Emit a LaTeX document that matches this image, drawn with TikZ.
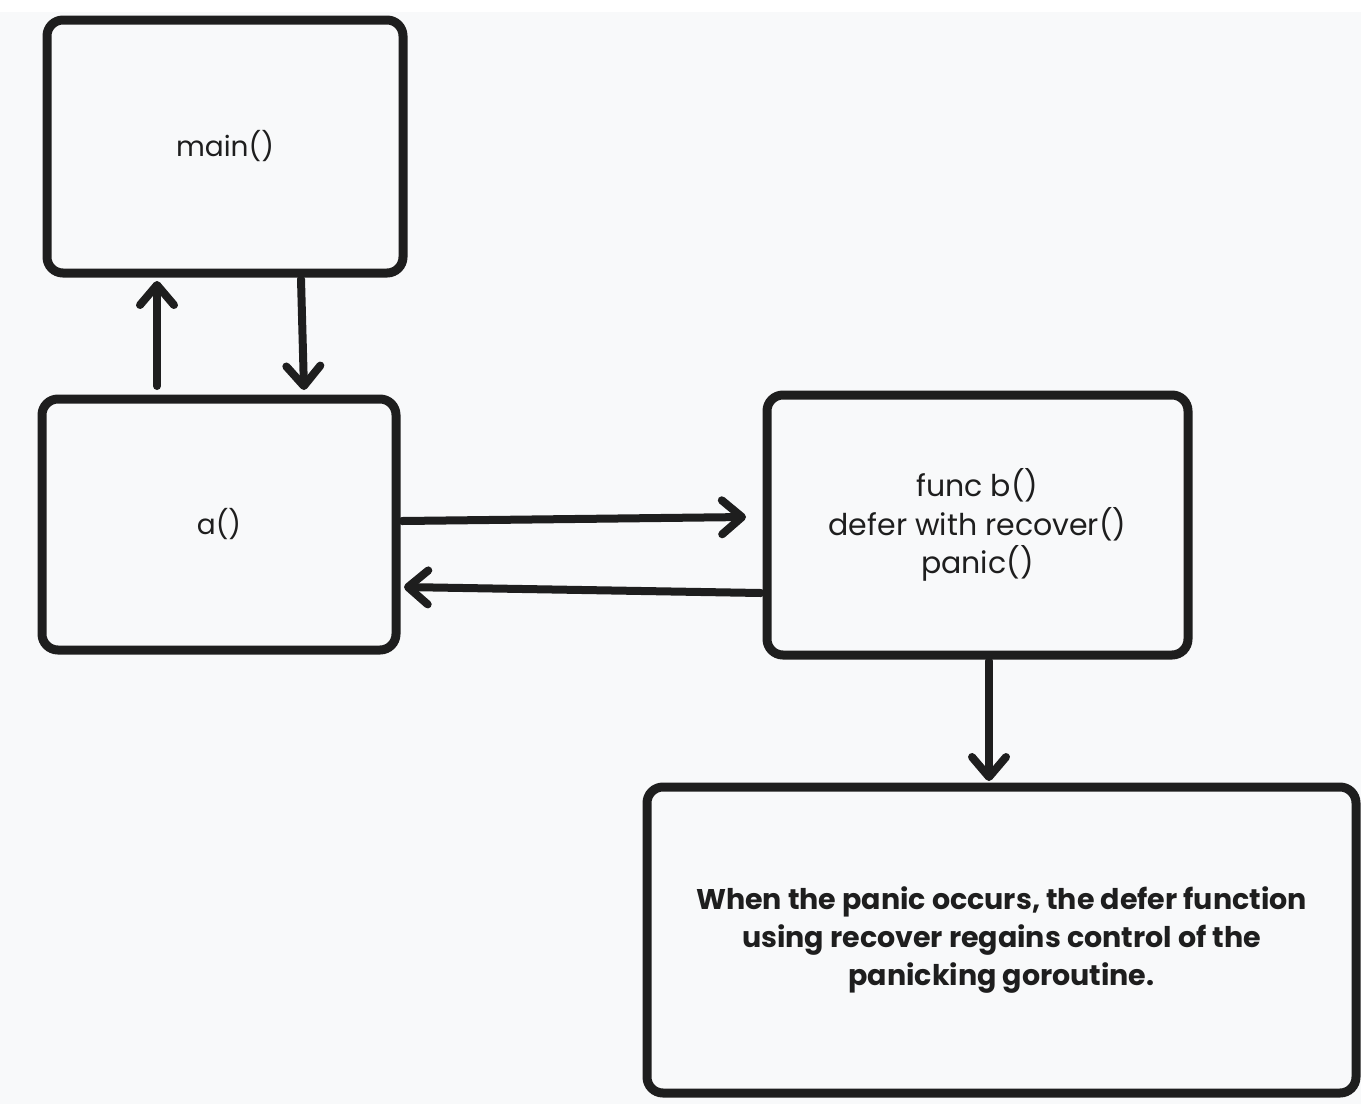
\documentclass[tikz,border=0pt]{standalone}
\usepackage{fontspec}
\setmainfont{Poppins}
\usetikzlibrary{arrows.meta}
\definecolor{bg}{HTML}{F8F9FA}
\definecolor{ink}{HTML}{1E1E1E}
\tikzset{
  box/.style={draw=ink, line width=9pt, rounded corners=16pt, fill=bg, align=center, inner sep=0pt, text=ink},
  conn/.style={draw=ink, line width=8pt, line cap=round, -{Straight Barb[length=20pt, width=34pt, round]}},
}
\begin{document}
\begin{tikzpicture}[x=1pt, y=-1pt, font=\fontsize{28}{38.5}\selectfont]
\useasboundingbox (0,0) rectangle (1368,1104);
\fill[white] (0,0) rectangle (1368,1104);
\fill[bg] (0,12) rectangle (1361,1104);
\node[box, minimum width=356pt, minimum height=253pt] (main) at (225,146.5) {main()};
\node[box, minimum width=354pt, minimum height=251pt] (a) at (219,524.5) {a()};
\node[box, minimum width=421pt, minimum height=260pt, font=\fontsize{30}{38.5}\selectfont] (b) at (977.5,525) {func b()\\defer with recover()\\panic()};
\node[box, minimum width=709pt, minimum height=306pt, font=\fontsize{28.5}{38}\selectfont\bfseries] (note) at (1001.5,940) {When the panic occurs, the defer function\\using recover regains control of the\\panicking goroutine.};
\coordinate (u1) at (157,386);
\draw[conn] (u1) -- (157,281);
\coordinate (d1) at (301,279);
\draw[conn] (d1) -- (304,390);
\coordinate (r1) at (402,521);
\draw[conn] (r1) -- (746,517);
\coordinate (l1) at (761,593);
\draw[conn] (l1) -- (404,587);
\coordinate (n1) at (989,661);
\draw[conn] (n1) -- (989,781);
\end{tikzpicture}
\end{document}
